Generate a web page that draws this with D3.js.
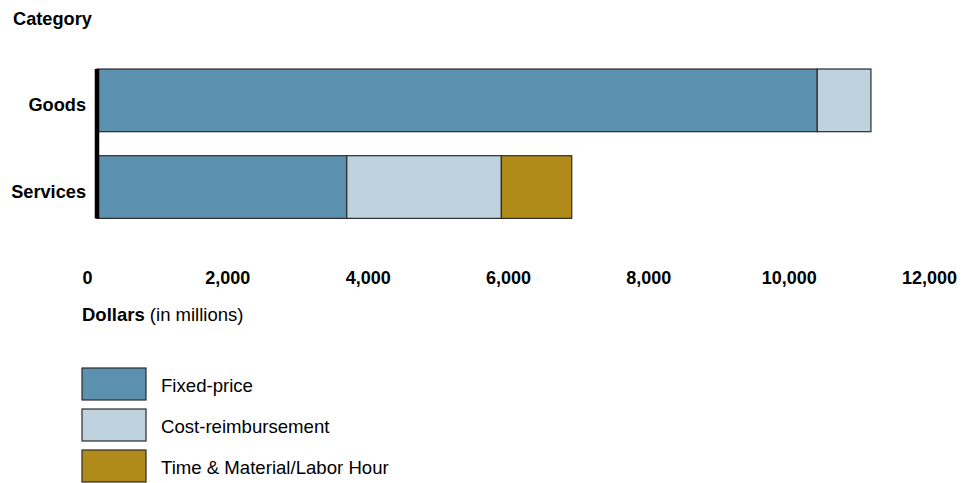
<!DOCTYPE html>
<html><head><meta charset="utf-8">
<script src="https://cdn.jsdelivr.net/npm/d3@7"></script>
<style>body{margin:0;background:#fff}svg{display:block}text{font-family:"Liberation Sans",Arial,sans-serif;fill:#000}</style>
</head><body>
<svg id="c" width="975" height="483"></svg>
<script>
const categories = ["Goods", "Services"];
const seriesNames = ["Fixed-price", "Cost-reimbursement", "Time & Material/Labor Hour"];
const fixedPrice = [10265, 3560];
const costReimbursement = [765, 2203];
const timeMaterial = [0, 1003];
const tickValues = [0, 2000, 4000, 6000, 8000, 10000, 12000];
const colors = ["#5b90ae", "#bfd3de", "#b08b19"];

const svg = d3.select("#c");
const x = d3.scaleLinear().domain([0, 12000]).range([97, 939]);
const y = d3.scaleBand().domain(categories).range([45, 242.4]).paddingInner(0.277).paddingOuter(0.277);

const rows = categories.map((c, i) => ({cat: c, "Fixed-price": fixedPrice[i], "Cost-reimbursement": costReimbursement[i], "Time & Material/Labor Hour": timeMaterial[i]}));
const stacked = d3.stack().keys(seriesNames)(rows);

svg.append("text").attr("x", 13).attr("y", 25).attr("font-size", 18.2).attr("font-weight", "bold").text("Category");

stacked.forEach((s, si) => {
  svg.append("g").selectAll("rect").data(s.filter(d => d[1] - d[0] > 0)).join("rect")
    .attr("x", d => x(d[0])).attr("width", d => x(d[1]) - x(d[0]))
    .attr("y", d => y(d.data.cat)).attr("height", y.bandwidth())
    .attr("fill", colors[si]).attr("stroke", "#2b2b2b").attr("stroke-width", 1.2);
});

// category labels
svg.append("g").selectAll("text").data(categories).join("text")
  .attr("x", 86).attr("y", d => y(d) + y.bandwidth() / 2 + 11)
  .attr("text-anchor", "end").attr("font-size", 18.2).attr("font-weight", "bold").text(d => d);

// axis line
svg.append("line").attr("x1", x(0)).attr("x2", x(0))
  .attr("y1", y(categories[0])).attr("y2", y(categories[1]) + y.bandwidth())
  .attr("stroke", "#000").attr("stroke-width", 4.5);

// tick labels
const xAxis = d3.axisBottom(x).tickValues(tickValues).tickFormat(d3.format(",")).tickSize(0).tickPadding(0);
const ax = svg.append("g").attr("transform", "translate(-10,270)").call(xAxis);
ax.select(".domain").remove();
ax.selectAll("text").attr("font-size", 18).attr("font-weight", "bold").attr("font-family", "Liberation Sans, Arial, sans-serif").attr("fill", "#000").attr("dy", "0.8em");

const t = svg.append("text").attr("x", 82).attr("y", 321).attr("font-size", 18.5);
t.append("tspan").attr("font-weight", "bold").text("Dollars");
t.append("tspan").text(" (in millions)");

// legend
const lg = svg.append("g").selectAll("g").data(seriesNames).join("g")
  .attr("transform", (d, i) => `translate(82,${368 + i * 41})`);
lg.append("rect").attr("width", 64).attr("height", 32).attr("fill", (d, i) => colors[i])
  .attr("stroke", "#2b2b2b").attr("stroke-width", 1.2);
lg.append("text").attr("x", 79).attr("y", 24).attr("font-size", 18.6).text(d => d);
</script>
</body></html>
